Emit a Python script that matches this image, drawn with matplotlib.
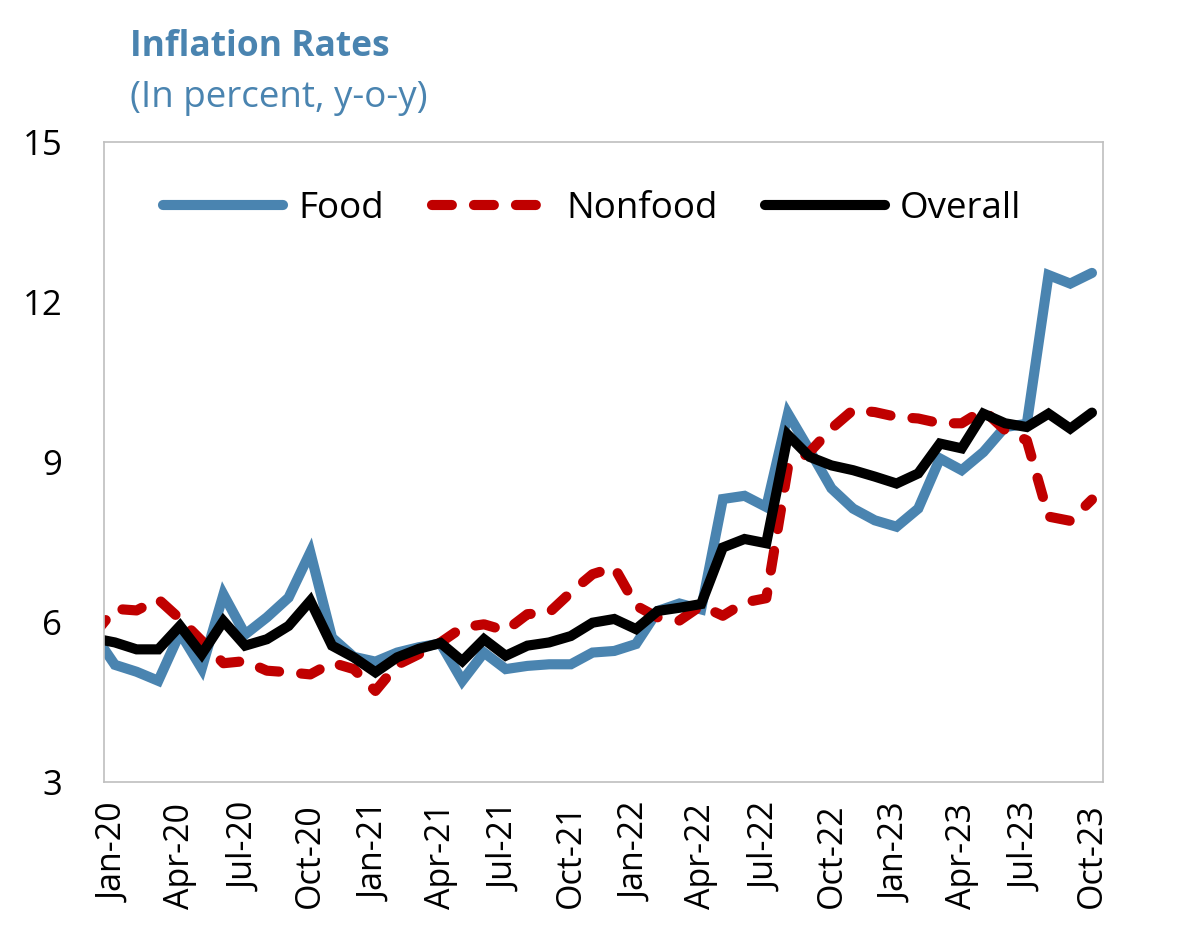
import matplotlib
matplotlib.use("Agg")
import matplotlib.pyplot as plt
import numpy as np
import pandas as pd

# Monthly y-o-y inflation, Dec-19 .. Oct-23 (Dec-19 is clipped at the left edge)
months = pd.date_range("2019-12-01", periods=47, freq="MS")
month_labels = [d.strftime("%b-%y") for d in months]

food = [
    5.80,
    5.20, 5.07, 4.90, 5.80, 5.13, 6.52, 5.77, 6.09, 6.46, 7.31, 5.71, 5.35,
    5.26, 5.43, 5.53, 5.60, 4.90, 5.43, 5.12, 5.18, 5.21, 5.21, 5.43, 5.46,
    5.59, 6.21, 6.35, 6.24, 8.31, 8.37, 8.16, 9.91, 9.22, 8.51, 8.13, 7.91,
    7.79, 8.13, 9.07, 8.85, 9.19, 9.66, 9.72, 12.51, 12.35, 12.55,
]
nonfood = [
    5.75,
    6.25, 6.22, 6.43, 6.06, 5.65, 5.23, 5.27, 5.09, 5.06, 5.02, 5.24, 5.12,
    4.71, 5.20, 5.40, 5.62, 5.90, 5.96, 5.84, 6.15, 6.18, 6.56, 6.90, 7.03,
    6.31, 6.09, 6.03, 6.31, 6.12, 6.37, 6.45, 8.91, 9.19, 9.63, 9.98, 9.94,
    9.85, 9.82, 9.73, 9.73, 9.98, 9.60, 9.41, 7.98, 7.90, 8.30,
]
overall = [
    5.70,
    5.62, 5.49, 5.49, 5.93, 5.40, 6.02, 5.56, 5.68, 5.93, 6.40, 5.56, 5.34,
    5.06, 5.34, 5.50, 5.61, 5.27, 5.68, 5.37, 5.56, 5.62, 5.74, 5.99, 6.06,
    5.87, 6.21, 6.27, 6.34, 7.40, 7.56, 7.48, 9.51, 9.10, 8.94, 8.85, 8.73,
    8.60, 8.79, 9.35, 9.26, 9.91, 9.73, 9.66, 9.91, 9.63, 9.93,
]

y_ticks = [3, 6, 9, 12, 15]

plt.rcParams["font.family"] = ["Open Sans", "DejaVu Sans"]

blue = "#4a84b0"
red = "#c00000"

x = np.arange(len(months)) - 1  # Jan-20 sits at 0

fig = plt.figure(figsize=(11.82, 9.30), dpi=100)
ax = fig.add_axes([0.088, 0.159, 0.845, 0.688])

lw = 7.3
ax.plot(x, food, color=blue, linewidth=lw, solid_capstyle="round",
        solid_joinstyle="miter", label="Food")
ax.plot(x, nonfood, color=red, linewidth=lw, linestyle=(0, (1.96, 2.18)),
        dash_capstyle="round", label="Nonfood")
ax.plot(x, overall, color="black", linewidth=lw, solid_capstyle="round",
        solid_joinstyle="miter", label="Overall")

ax.set_xlim(-0.5, 45.5)
ax.set_ylim(3, 15)
ax.set_yticks(y_ticks)
ax.set_yticklabels([str(t) for t in y_ticks], fontsize=25)

tick_pos = list(range(0, 46, 3))
ax.set_xticks(tick_pos)
ax.set_xticklabels([month_labels[p + 1] for p in tick_pos], rotation=90,
                   fontsize=24.5)

ax.tick_params(axis="both", length=0)
ax.tick_params(axis="y", pad=30)
ax.tick_params(axis="x", pad=15)

for spine in ax.spines.values():
    spine.set_color("#bfbfbf")
    spine.set_linewidth(1.2)

ax.legend(loc="center", bbox_to_anchor=(0.489, 0.896), ncol=3, frameon=False,
          fontsize=26.5, handlelength=3.26, handletextpad=0.4,
          columnspacing=1.3)

fig.text(0.110, 0.9395, "Inflation Rates", fontsize=25.5, fontweight="bold",
         color=blue, va="baseline")
fig.text(0.110, 0.885, "(In percent, y-o-y)", fontsize=26.5, color=blue,
         va="baseline")

fig.savefig("out.png", dpi=100)
